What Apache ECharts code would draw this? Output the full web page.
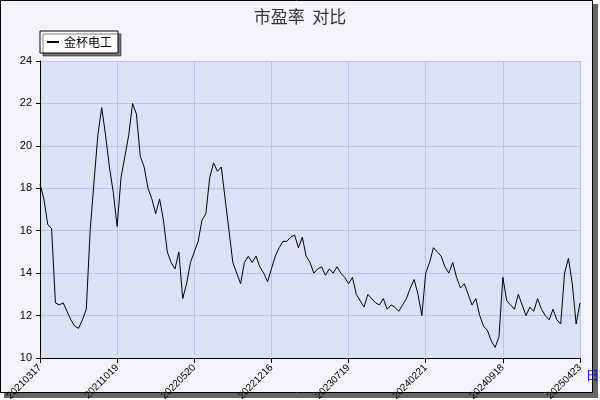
<!DOCTYPE html>
<html><head><meta charset="utf-8">
<script src="https://cdn.jsdelivr.net/npm/echarts@6/dist/echarts.min.js"></script>
<style>html,body{margin:0;background:#fff}#c{width:600px;height:400px}</style>
</head><body><div id="c"></div>
<script>
const tickLabels=['20210317','20211019','20220520','20221216','20230719','20240221','20240918','20250423'];
const values=[
18.2,17.5,16.3,16.1,12.6,12.5,12.6,12.2,11.8,11.5,11.4,11.8,12.3,16,18.3,20.5,21.8,20.5,19,17.8,
16.2,18.5,19.5,20.5,22,21.5,19.5,19,18,17.5,16.8,17.5,16.5,15,14.5,14.2,15,12.8,13.5,14.5,
15,15.5,16.5,16.8,18.5,19.2,18.8,19,17.5,16,14.5,14,13.5,14.5,14.8,14.5,14.8,14.3,14.0,13.6,
14.2,14.8,15.2,15.5,15.5,15.7,15.8,15.2,15.7,14.8,14.5,14.0,14.2,14.3,13.9,14.2,14.0,14.3,14.0,13.8,
13.5,13.8,13.0,12.7,12.4,13.0,12.8,12.6,12.5,12.8,12.3,12.5,12.4,12.2,12.5,12.8,13.3,13.7,13.0,12.0,
14.0,14.5,15.2,15.0,14.8,14.3,14.0,14.5,13.8,13.3,13.5,13.0,12.5,12.8,12.0,11.5,11.3,10.8,10.5,11.0,
13.8,12.7,12.5,12.3,13.0,12.5,12.0,12.4,12.2,12.8,12.3,12.0,11.8,12.3,11.8,11.6,14.0,14.7,13.5,11.6,
12.6];
const cats=values.map((v,i)=>i%20===0?tickLabels[i/20]:String(i));
const chart=echarts.init(document.getElementById('c'));
chart.setOption({
  backgroundColor:'#ffffff',
  animation:false,
  graphic:[
    {type:'rect',shape:{x:4,y:4,width:594,height:394},style:{fill:'#666'},z:-10},
    {type:'rect',shape:{x:0.5,y:0.5,width:592,height:392},style:{fill:'#f3f3fb',stroke:'#000',lineWidth:1},z:-9}
  ],
  title:{text:'市盈率  对比',left:'center',top:3,textStyle:{fontSize:17,fontWeight:'normal',color:'#333',fontFamily:'Noto Sans CJK SC'}},
  legend:{left:40,top:31,data:['金杯电工'],backgroundColor:'#fff',borderColor:'#000',borderWidth:1,padding:[5,6],
    shadowColor:'rgba(0,0,0,0.5)',shadowOffsetX:3,shadowOffsetY:3,shadowBlur:0,
    itemWidth:12,itemHeight:2,textStyle:{fontSize:12,color:'#000',fontFamily:'Noto Sans CJK SC'}},
  grid:{left:40,right:20,top:61,bottom:42,show:true,backgroundColor:'#dce2f6',borderWidth:0,outerBoundsMode:'none',containLabel:false},
  xAxis:{type:'category',data:cats,boundaryGap:false,name:'日期',nameLocation:'end',nameGap:-10,
    nameTextStyle:{color:'#0000ff',fontSize:13,verticalAlign:'top',padding:[12,0,0,0]},
    axisLine:{lineStyle:{color:'#000'}},axisTick:{interval:19,length:5,lineStyle:{color:'#000'}},
    axisLabel:{interval:19,rotate:45,fontSize:10,color:'#000',formatter:v=>tickLabels.includes(v)?v:''},
    splitLine:{show:true,interval:19,lineStyle:{color:'#b8c4ec'}}},
  yAxis:{type:'value',min:10,max:24,interval:2,
    axisLine:{show:true,lineStyle:{color:'#000'}},axisTick:{show:true,length:4},
    axisLabel:{color:'#000',fontSize:11},splitLine:{lineStyle:{color:'#b8c4ec'}}},
  series:[{name:'金杯电工',type:'line',data:values,symbol:'none',lineStyle:{color:'#000',width:1},itemStyle:{color:'#000'}}]
});
</script></body></html>
